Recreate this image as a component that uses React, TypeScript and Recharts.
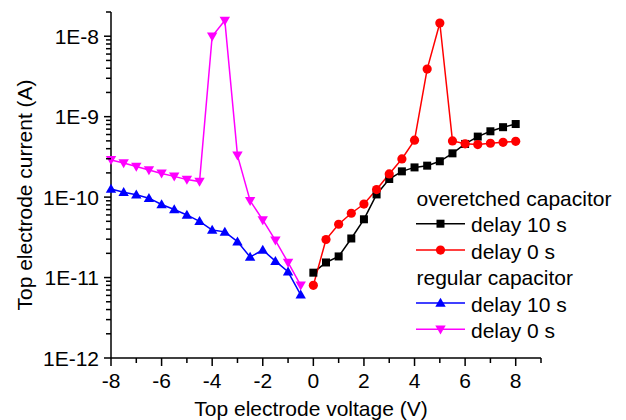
import React from 'react';
import { LineChart, Line, XAxis, YAxis, Legend, Label } from 'recharts';

// ---- data ----
const voltageRegular = [-8, -7.5, -7, -6.5, -6, -5.5, -5, -4.5, -4, -3.5, -3, -2.5, -2, -1.5, -1, -0.5];
const regularDelay10 = [1.26e-10, 1.15e-10, 1.07e-10, 9.7e-11, 8.1e-11, 7.0e-11, 6.0e-11, 5.0e-11, 3.9e-11, 3.7e-11, 2.8e-11, 1.8e-11, 2.2e-11, 1.6e-11, 1.18e-11, 6.1e-12];
const regularDelay0 = [2.9e-10, 2.66e-10, 2.4e-10, 2.17e-10, 1.97e-10, 1.81e-10, 1.65e-10, 1.56e-10, 1.0e-8, 1.57e-8, 3.3e-10, 9.0e-11, 5.2e-11, 2.9e-11, 1.54e-11, 8.0e-12];

const voltageOveretched = [0, 0.5, 1, 1.5, 2, 2.5, 3, 3.5, 4, 4.5, 5, 5.5, 6, 6.5, 7, 7.5, 8];
const overetchedDelay10 = [1.15e-11, 1.54e-11, 1.83e-11, 3.06e-11, 5.3e-11, 1.08e-10, 1.68e-10, 2.09e-10, 2.34e-10, 2.46e-10, 2.79e-10, 3.5e-10, 4.58e-10, 5.65e-10, 6.58e-10, 7.4e-10, 8.1e-10];
const overetchedDelay0 = [8.0e-12, 2.97e-11, 4.6e-11, 6.3e-11, 8.2e-11, 1.24e-10, 1.94e-10, 2.98e-10, 5.1e-10, 3.9e-9, 1.46e-8, 5.0e-10, 4.6e-10, 4.5e-10, 4.67e-10, 4.8e-10, 4.94e-10];

const xMajorTicks = [-8, -6, -4, -2, 0, 2, 4, 6, 8];
const xTickLabels = ['-8', '-6', '-4', '-2', '0', '2', '4', '6', '8'];
const xMinorTicks = [-7, -5, -3, -1, 1, 3, 5, 7, 9];
const yMajorTicks = [1e-12, 1e-11, 1e-10, 1e-9, 1e-8];
const yTickLabels = ['1E-12', '1E-11', '1E-10', '1E-9', '1E-8'];
const yDecadeExponents = [-12, -11, -10, -9, -8];
const yMinorMantissas = [2, 3, 4, 5, 6, 7, 8, 9];

const legendGroups = [
  { title: 'overetched capacitor', items: [
    { label: 'delay 10 s', color: '#000000', shape: 'square' },
    { label: 'delay 0 s', color: '#ff0000', shape: 'circle' },
  ] },
  { title: 'regular capacitor', items: [
    { label: 'delay 10 s', color: '#0000ff', shape: 'up' },
    { label: 'delay 0 s', color: '#ff00ff', shape: 'down' },
  ] },
];

// ---- derived ----
const zip = (xs: number[], ys: number[]) => xs.map((x, i) => ({ x, y: ys[i] }));
const dataRegular10 = zip(voltageRegular, regularDelay10);
const dataRegular0 = zip(voltageRegular, regularDelay0);
const dataOver10 = zip(voltageOveretched, overetchedDelay10);
const dataOver0 = zip(voltageOveretched, overetchedDelay0);

const yMinorTicks: number[] = [];
yDecadeExponents.forEach((e) => {
  yMinorMantissas.forEach((m) => {
    const v = m * Math.pow(10, e);
    if (v <= 2e-8) yMinorTicks.push(v);
  });
});
const yAllTicks = [...yMajorTicks, ...yMinorTicks].sort((a, b) => a - b);
const xAllTicks = [...xMajorTicks, ...xMinorTicks].sort((a, b) => a - b);

const FONT = 'Liberation Sans, Arial, Helvetica, sans-serif';
const FS = 21;
const X_DOMAIN: [number, number] = [-8, 9];
const Y_DOMAIN: [number, number] = [1e-12, 2e-8];

function Marker({ shape, color, cx, cy }: { shape: string; color: string; cx: number; cy: number }) {
  if (shape === 'square') return <rect x={cx - 4} y={cy - 4} width={8} height={8} fill={color} />;
  if (shape === 'circle') return <circle cx={cx} cy={cy} r={4.6} fill={color} />;
  if (shape === 'up') return <polygon points={`${cx - 5.2},${cy + 3.8} ${cx + 5.2},${cy + 3.8} ${cx},${cy - 5.2}`} fill={color} />;
  return <polygon points={`${cx - 5.2},${cy - 3.8} ${cx + 5.2},${cy - 3.8} ${cx},${cy + 5.2}`} fill={color} />;
}

const makeDot = (shape: string, color: string) => (props: any) => {
  const { cx, cy, index } = props;
  if (cx == null || cy == null || isNaN(cx) || isNaN(cy)) return <g key={`${shape}-${index}`} />;
  return (
    <g key={`${shape}-${index}`}>
      <Marker shape={shape} color={color} cx={cx} cy={cy} />
    </g>
  );
};

const XTick = (props: any) => {
  const x = Number(props.x);
  const y = Number(props.y);
  const v = Number(props.payload && props.payload.value);
  const mi = xMajorTicks.findIndex((t) => Math.abs(t - v) < 1e-9);
  const major = mi >= 0;
  return (
    <g>
      <rect x={x - 0.75} y={y} width={1.5} height={major ? 8 : 5} fill="#000000" stroke="none" />
      {major ? (
        <text x={x} y={y + 30} textAnchor="middle" fontFamily={FONT} fontSize={FS} fill="#000000" stroke="none">{xTickLabels[mi]}</text>
      ) : null}
    </g>
  );
};

const YTick = (props: any) => {
  const x = Number(props.x);
  const y = Number(props.y);
  const v = Number(props.payload && props.payload.value);
  const mi = yMajorTicks.findIndex((t) => Math.abs(Math.log10(t) - Math.log10(v)) < 1e-6);
  const major = mi >= 0;
  const len = major ? 7 : 5;
  return (
    <g>
      <rect x={x - len} y={y - 0.75} width={len} height={1.5} fill="#000000" stroke="none" />
      {major ? (
        <text x={x - 12} y={y + 7.5} textAnchor="end" fontFamily={FONT} fontSize={FS} fill="#000000" stroke="none">{yTickLabels[mi]}</text>
      ) : null}
    </g>
  );
};

const renderLegend = () => {
  const rows: React.ReactNode[] = [];
  let r = 0;
  const step = 26.4;
  const base0 = 26;
  legendGroups.forEach((g, gi) => {
    const by = base0 + r * step;
    rows.push(
      <text key={`t${gi}`} x={6.5} y={by} fontFamily={FONT} fontSize={FS} fill="#000">{g.title}</text>
    );
    r++;
    g.items.forEach((it, ii) => {
      const b = base0 + r * step;
      const ly = b - 8.7;
      rows.push(
        <g key={`i${gi}-${ii}`}>
          <line x1={6} x2={55} y1={ly} y2={ly} stroke={it.color} strokeWidth={1.5} />
          <Marker shape={it.shape} color={it.color} cx={30.5} cy={ly} />
          <text x={61} y={b} fontFamily={FONT} fontSize={FS} fill="#000">{it.label}</text>
        </g>
      );
      r++;
    });
  });
  return (
    <svg width={216} height={170} style={{ display: 'block', overflow: 'visible' }}>
      {rows}
    </svg>
  );
};

export default function App() {
  return (
    <div style={{ position: 'absolute', left: 0, top: 0, width: 626, height: 420, background: '#fff' }}>
      <LineChart width={626} height={420} margin={{ top: 12, right: 85, bottom: 0, left: 0 }}>
        <XAxis
          type="number"
          dataKey="x"
          domain={X_DOMAIN}
          ticks={xAllTicks}
          interval={0}
          height={62}
          tickSize={0}
          tickMargin={0}
          tickLine={false}
          tick={XTick}
          axisLine={{ stroke: '#000', strokeWidth: 1.5 }}
          stroke="#000000"
        >
          <Label
            content={(p: any) => {
              const vb = p.viewBox || { x: 111, y: 358 };
              return (
                <text x={vb.x + 200} y={vb.y + 58} textAnchor="middle" fontFamily={FONT} fontSize={FS} fill="#000">
                  Top electrode voltage (V)
                </text>
              );
            }}
          />
        </XAxis>
        <YAxis
          type="number"
          dataKey="y"
          scale="log"
          domain={Y_DOMAIN}
          ticks={yAllTicks}
          interval={0}
          width={111}
          tickSize={0}
          tickMargin={0}
          tickLine={false}
          tick={YTick}
          axisLine={{ stroke: '#000', strokeWidth: 1.5 }}
          stroke="#000000"
        >
          <Label
            content={(p: any) => {
              const vb = p.viewBox || { x: 0, y: 12, height: 346 };
              const cx = vb.x + 32;
              const cy = vb.y + vb.height / 2 + 10;
              return (
                <text x={cx} y={cy} transform={`rotate(-90, ${cx}, ${cy})`} textAnchor="middle" fontFamily={FONT} fontSize={FS} fill="#000">
                  Top electrode current (A)
                </text>
              );
            }}
          />
        </YAxis>
        <Legend
          layout="vertical"
          verticalAlign="middle"
          align="center"
          content={renderLegend}
          wrapperStyle={{ position: 'absolute', left: 410, top: 180, width: 216, height: 170, margin: 0 }}
        />
        <Line data={dataRegular0} dataKey="y" type="linear" stroke="#ff00ff" strokeWidth={1.5} dot={makeDot('down', '#ff00ff')} isAnimationActive={false} />
        <Line data={dataRegular10} dataKey="y" type="linear" stroke="#0000ff" strokeWidth={1.5} dot={makeDot('up', '#0000ff')} isAnimationActive={false} />
        <Line data={dataOver10} dataKey="y" type="linear" stroke="#000000" strokeWidth={1.5} dot={makeDot('square', '#000000')} isAnimationActive={false} />
        <Line data={dataOver0} dataKey="y" type="linear" stroke="#ff0000" strokeWidth={1.5} dot={makeDot('circle', '#ff0000')} isAnimationActive={false} />
      </LineChart>
    </div>
  );
}
